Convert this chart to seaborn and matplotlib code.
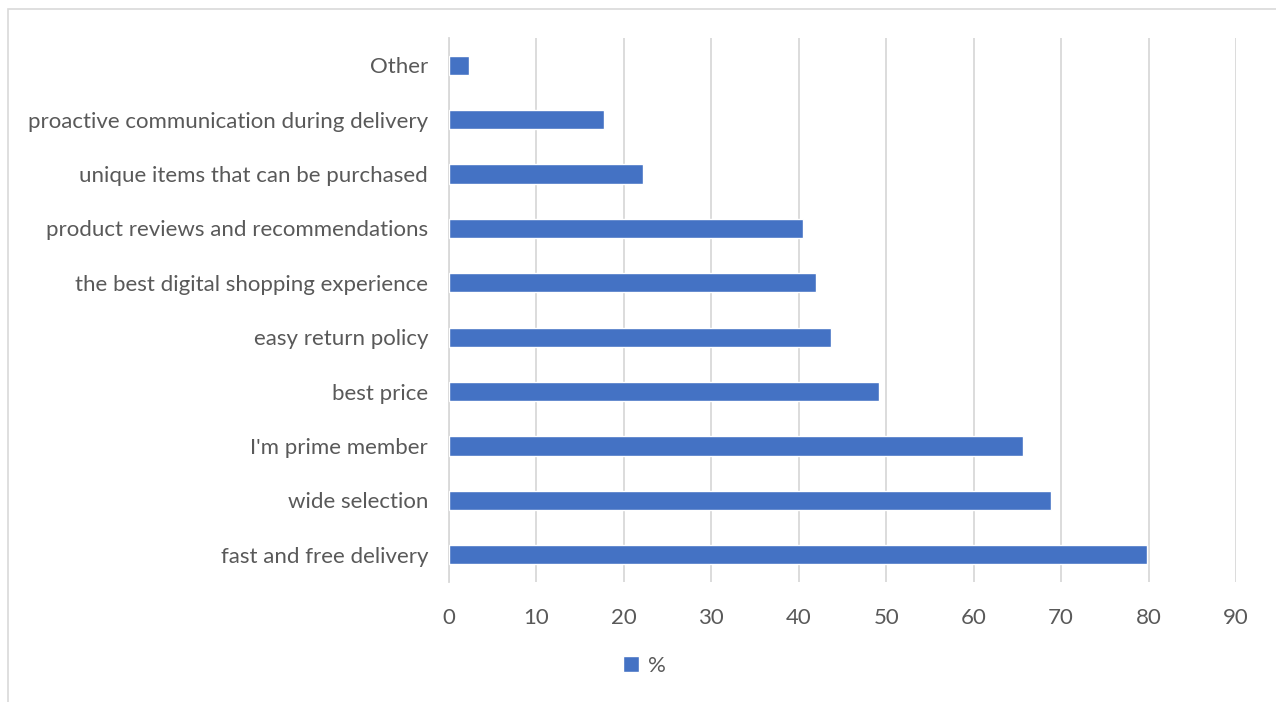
import matplotlib
matplotlib.use("Agg")
import matplotlib.pyplot as plt
import seaborn as sns
import pandas as pd
from matplotlib.patches import Rectangle, Patch

categories = [
    "Other",
    "proactive communication during delivery",
    "unique items that can be purchased",
    "product reviews and recommendations",
    "the best digital shopping experience",
    "easy return policy",
    "best price",
    "I'm prime member",
    "wide selection",
    "fast and free delivery",
]
values = [2.3, 17.7, 22.2, 40.5, 42.0, 43.7, 49.2, 65.6, 68.8, 79.8]
xticks = [0, 10, 20, 30, 40, 50, 60, 70, 80, 90]
series_name = "%"

df = pd.DataFrame({"category": categories, "value": values})

sns.set_theme(style="white")
plt.rcParams["font.family"] = ["Lato", "DejaVu Sans"]

BAR = "#4472C4"
TXT = "#595959"
GRID = "#D9D9D9"

fig = plt.figure(figsize=(12.76, 7.02), dpi=100)
ax = fig.add_axes([449 / 1276, 1 - 582 / 702, (1236 - 449) / 1276, (582 - 38) / 702])

sns.barplot(data=df, x="value", y="category", order=categories, color=BAR,
            width=0.35, ax=ax, saturation=1, zorder=3)

ax.set_xlim(0, 90)
ax.set_ylim(9.5, -0.5)
ax.set_xticks(xticks)
ax.set_xticklabels([str(t) for t in xticks])
ax.grid(axis="x", color=GRID, linewidth=1.3, zorder=0)
ax.grid(axis="y", visible=False)
for s in ["top", "right", "bottom"]:
    ax.spines[s].set_visible(False)
ax.spines["left"].set_color(GRID)
ax.spines["left"].set_linewidth(1.3)
ax.set_xlabel("")
ax.set_ylabel("")
ax.tick_params(axis="x", colors=TXT, labelsize=16, length=0, pad=19)
ax.tick_params(axis="y", colors=TXT, labelsize=16, length=0, pad=15)
for lbl in ax.get_xticklabels() + ax.get_yticklabels():
    lbl.set_color(TXT)

fig.patches.append(Rectangle((8 / 1276, -0.1), 1.2, 1 - 9 / 702 + 0.1,
                             transform=fig.transFigure, fill=False,
                             edgecolor="#D9D9D9", linewidth=1.2))

fig.legend(handles=[Patch(facecolor=BAR, label=series_name)],
           loc="center", bbox_to_anchor=(0.505, 1 - 666 / 702), frameon=False,
           fontsize=16, labelcolor=TXT, handlelength=0.7, handleheight=0.7,
           handletextpad=0.4)

fig.savefig("out.png", dpi=100)
